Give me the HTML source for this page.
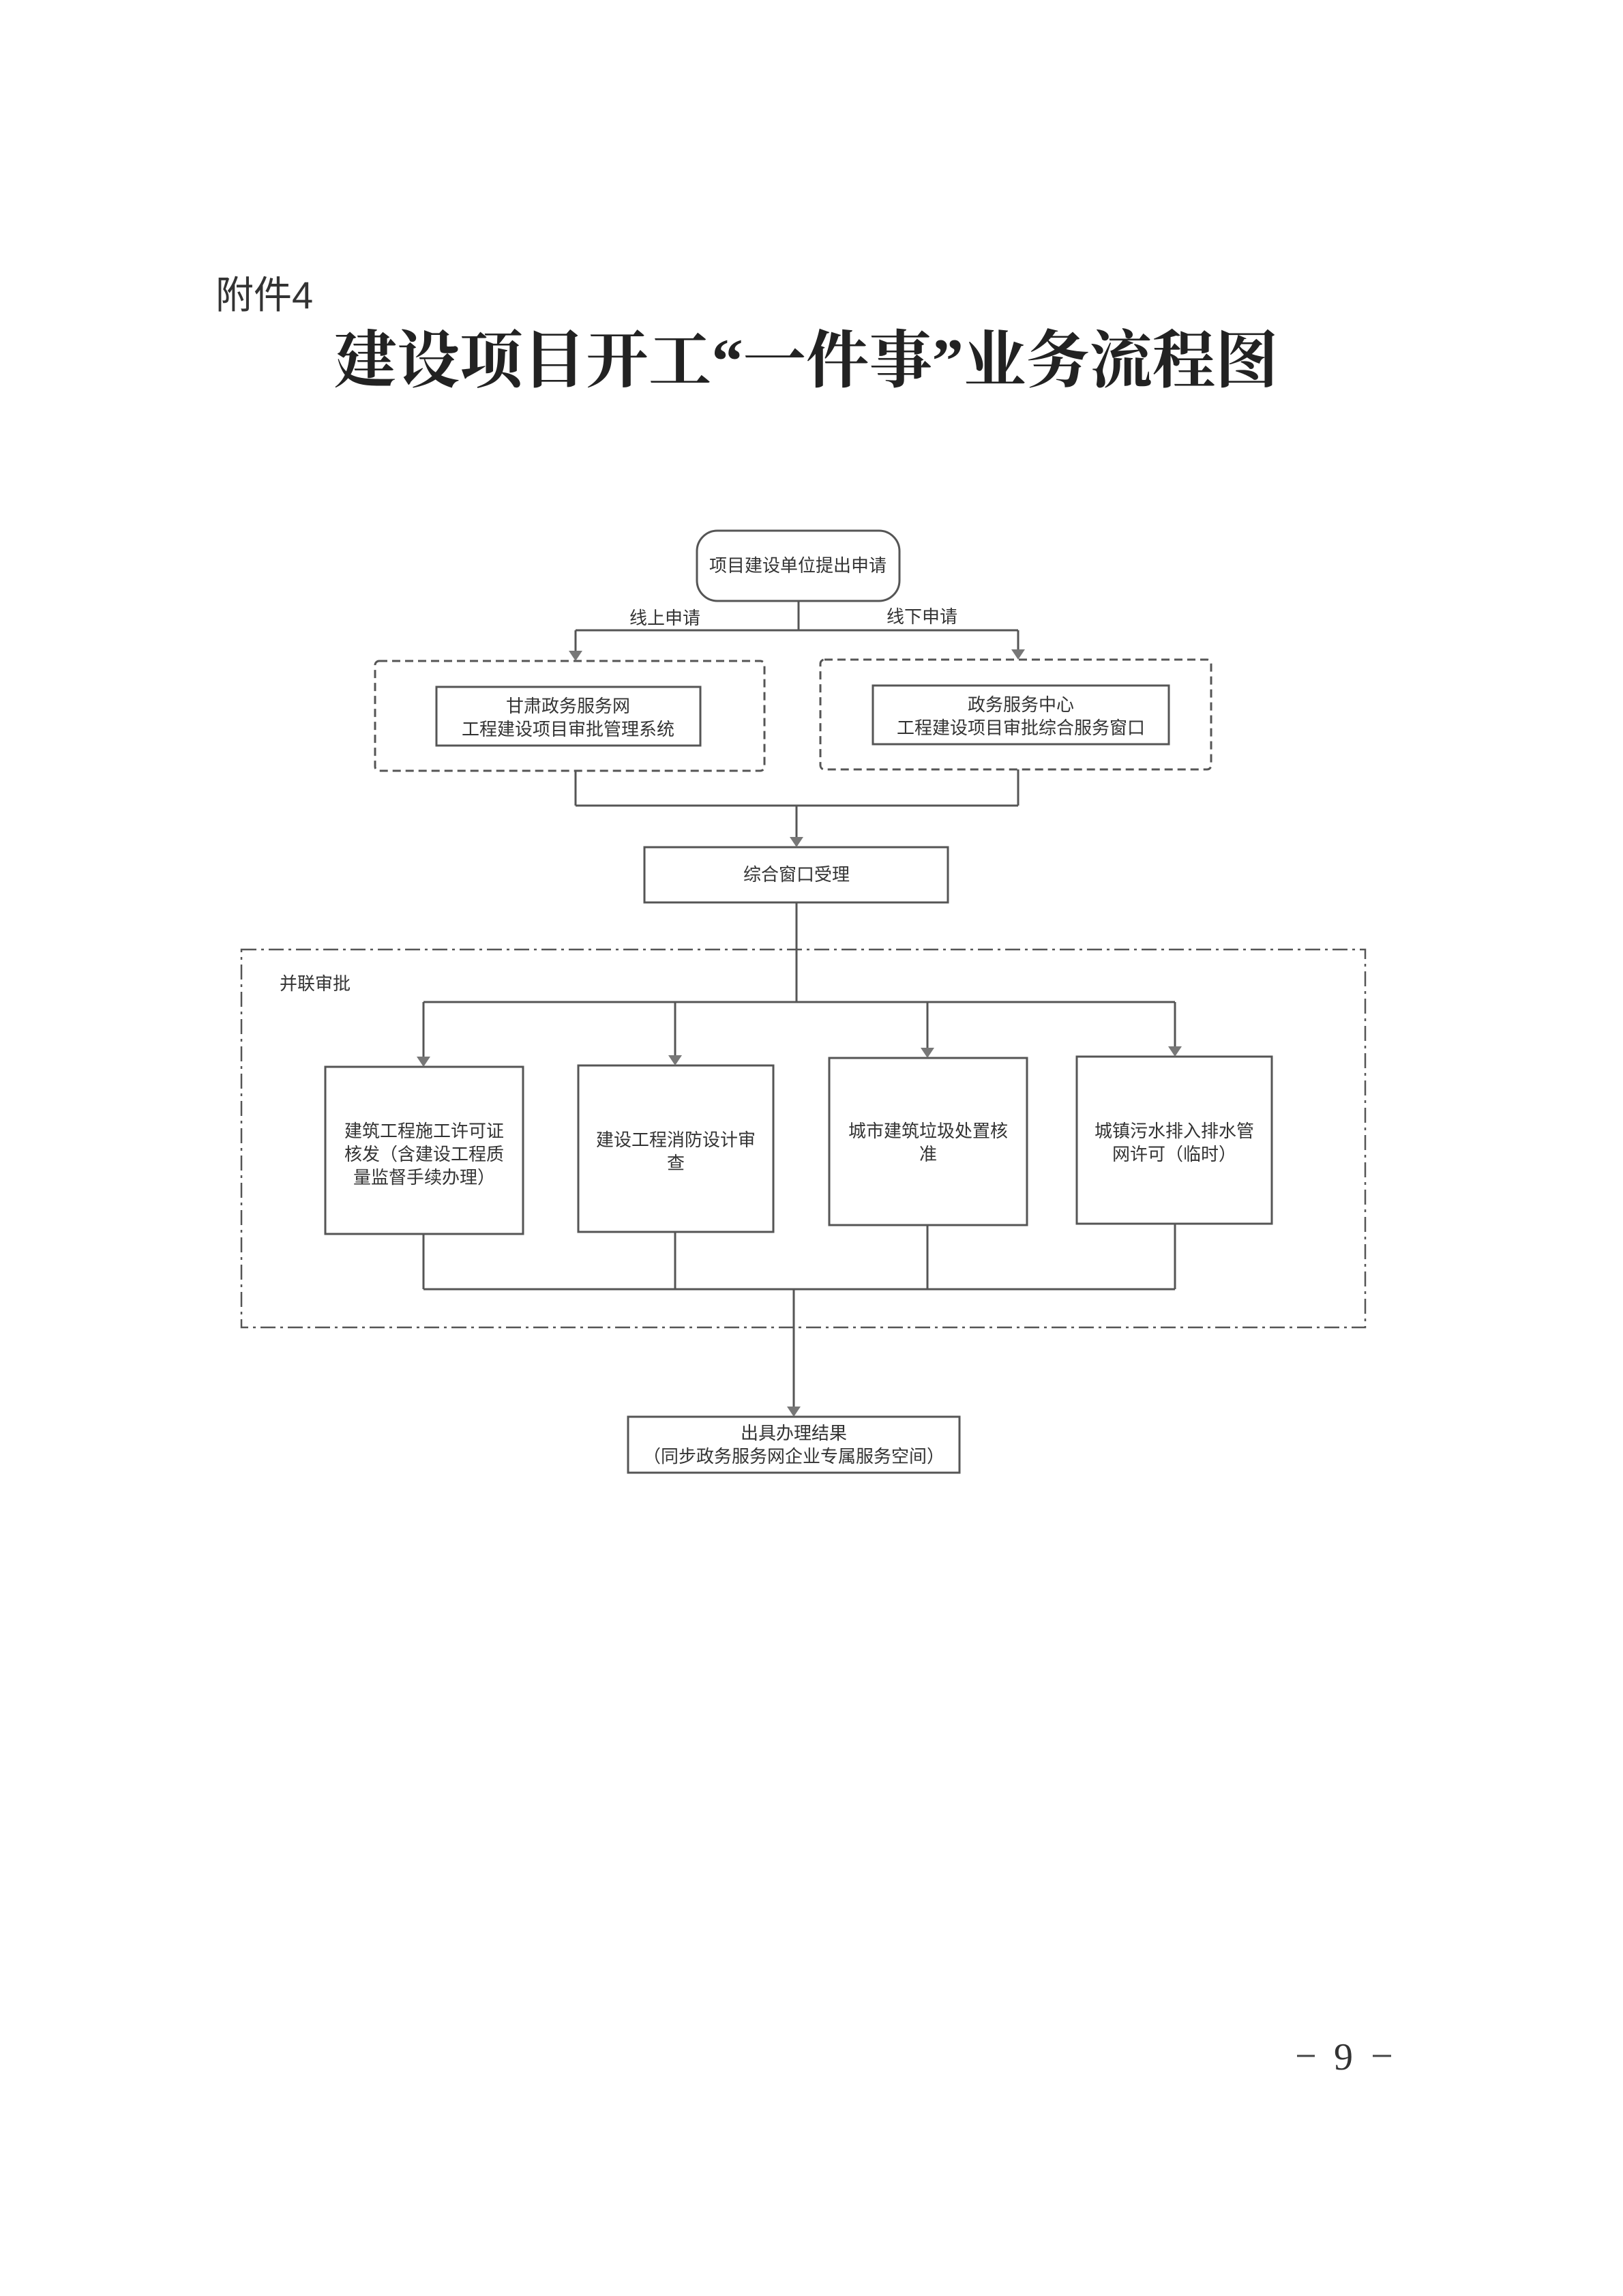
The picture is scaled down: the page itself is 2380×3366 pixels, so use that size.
<!DOCTYPE html>
<html><head><meta charset="utf-8"><style>
html,body{margin:0;padding:0;background:#fff;}
body{width:2380px;height:3366px;position:relative;overflow:hidden;}
svg{position:absolute;left:0;top:0;}
</style></head><body>
<svg width="2380" height="3366" viewBox="0 0 2380 3366" xmlns="http://www.w3.org/2000/svg">
<g font-family="'Liberation Sans','Noto Sans CJK SC',sans-serif" fill="#333">
<text x="316" y="452" font-size="56">附件4</text>
<text x="1182" y="560" font-size="92" font-weight="700" text-anchor="middle" font-family="'Liberation Serif','Noto Serif CJK SC',serif" fill="#222" textLength="1385" lengthAdjust="spacingAndGlyphs">建设项目开工“一件事”业务流程图</text>
</g>
<g stroke="#555" stroke-width="3" fill="none">
<rect x="1022" y="778" width="297" height="103" rx="30"/>
<path d="M1171 881V924M844 924H1493M844 924V962M1493 924V962"/>
<rect x="550" y="969" width="571" height="161" stroke-dasharray="12 7" rx="6"/>
<rect x="1203" y="967" width="573" height="161" stroke-dasharray="12 7" rx="6"/>
<rect x="640" y="1007" width="387" height="86"/>
<rect x="1280" y="1005" width="434" height="86"/>
<path d="M844 1130V1181M1493 1128V1181M844 1181H1493M1168 1181V1236"/>
<rect x="945" y="1242" width="445" height="81"/>
<path d="M1168 1323V1469M621 1469H1723M621 1469V1558M990 1469V1556M1360 1469V1545M1723 1469V1543"/>
<rect x="354" y="1392" width="1648" height="554" stroke-dasharray="22 7 4 7" stroke-width="2.5"/>
<rect x="477" y="1564" width="290" height="245"/>
<rect x="848" y="1562" width="286" height="244"/>
<rect x="1216" y="1551" width="290" height="245"/>
<rect x="1579" y="1549" width="286" height="245"/>
<path d="M621 1809V1890M990 1806V1890M1360 1796V1890M1723 1794V1890M621 1890H1723M1164 1890V2071"/>
<rect x="921" y="2077" width="486" height="82"/>
</g>
<g fill="#777">
<path d="M834 954L854 954L844 969Z"/>
<path d="M1483 952L1503 952L1493 967Z"/>
<path d="M1158 1227L1178 1227L1168 1242Z"/>
<path d="M611 1549L631 1549L621 1564Z"/>
<path d="M980 1547L1000 1547L990 1562Z"/>
<path d="M1350 1536L1370 1536L1360 1551Z"/>
<path d="M1713 1534L1733 1534L1723 1549Z"/>
<path d="M1154 2062L1174 2062L1164 2077Z"/>
</g>
<g font-family="'Liberation Sans','Noto Sans CJK SC',sans-serif" fill="#333" font-size="26" text-anchor="middle">
<text x="1170" y="838">项目建设单位提出申请</text>
<text x="975" y="915">线上申请</text>
<text x="1352" y="913">线下申请</text>
<text x="833" y="1044">甘肃政务服务网</text>
<text x="833" y="1078">工程建设项目审批管理系统</text>
<text x="1497" y="1042">政务服务中心</text>
<text x="1497" y="1076">工程建设项目审批综合服务窗口</text>
<text x="1168" y="1291">综合窗口受理</text>
<text x="410" y="1451" text-anchor="start">并联审批</text>
<text x="622" y="1667">建筑工程施工许可证</text>
<text x="622" y="1701">核发（含建设工程质</text>
<text x="622" y="1735">量监督手续办理）</text>
<text x="991" y="1680">建设工程消防设计审</text>
<text x="991" y="1714">查</text>
<text x="1361" y="1667">城市建筑垃圾处置核</text>
<text x="1361" y="1701">准</text>
<text x="1722" y="1667">城镇污水排入排水管</text>
<text x="1722" y="1701">网许可（临时）</text>
<text x="1164" y="2110">出具办理结果</text>
<text x="1164" y="2144">（同步政务服务网企业专属服务空间）</text>
</g>
<g font-family="'Liberation Serif','Noto Serif CJK SC',serif" fill="#333" font-size="56">
<text x="1970" y="3034" text-anchor="middle">9</text>
</g>
<path d="M1902 3014H1928M2013 3014H2040" stroke="#444" stroke-width="3"/>
</svg>
</body></html>
